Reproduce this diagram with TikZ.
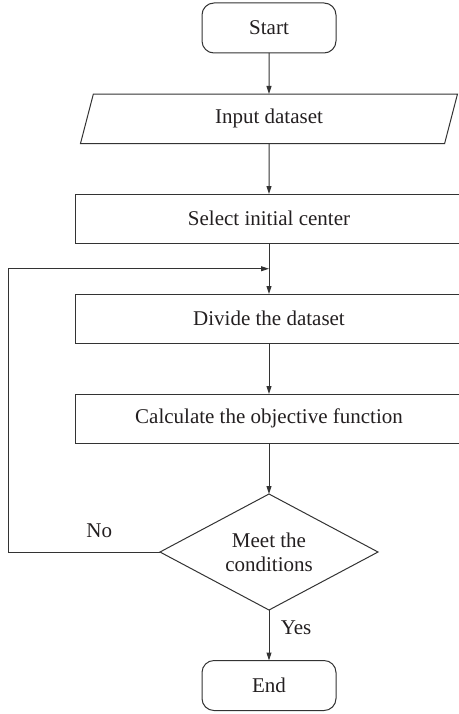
\documentclass[tikz,border=0pt]{standalone}
\usepackage{fontspec}
\setmainfont{Liberation Serif}
\usepackage{xcolor}
\usepackage{tikz}
\usetikzlibrary{arrows.meta,positioning,shapes.geometric}
\definecolor{line}{HTML}{333333}
\definecolor{ink}{HTML}{231F20}

\begin{document}
\begin{tikzpicture}[
  x=1pt,y=1pt,
  node distance=50.5pt,
  every node/.style={font=\fontsize{21}{24}\selectfont,text=ink},
  term/.style={draw=line,line width=1pt,outer sep=0pt,rounded corners=12pt,minimum width=134pt,minimum height=50pt},
  io/.style={draw=line,line width=1pt,outer sep=0pt,trapezium,trapezium left angle=63.4,trapezium right angle=116.6,trapezium stretches body,minimum width=377pt,minimum height=49.5pt},
  box/.style={draw=line,line width=1pt,outer sep=0pt,minimum width=388pt,minimum height=49.5pt},
  cond/.style={draw=line,line width=1pt,outer sep=0pt,diamond,aspect=1.88,minimum width=218pt,minimum height=116pt,align=center,inner sep=0pt},
  arr/.style={-{Triangle[length=8pt,width=5pt]},line width=1pt,draw=line}
]
\useasboundingbox (0,0) rectangle (458,-714);
\node[term] (start) at (269,-28) {Start};
\node[io,below=41pt of start] (input) {Input dataset};
\node[box,below=of input] (select) {Select initial center};
\node[box,below=of select] (divide) {Divide the dataset};
\node[box,below=of divide] (calc) {Calculate the objective function};
\node[cond,below=of calc] (meet) {Meet the\\conditions};
\node[term,below=of meet] (end) {End};
\path (select.south) -- coordinate (join) (divide.north);
\draw[arr] (start) -- (input);
\draw[arr] (input) -- (select);
\draw[arr] (select) -- (divide);
\draw[arr] (divide) -- (calc);
\draw[arr] (calc) -- (meet);
\draw[arr] (meet) -- node[pos=0.35,right=8pt]{Yes} (end);
\draw[arr] (meet.west) -- node[pos=0.4,above=10pt]{No} ++(-152,0) |- (join);
\end{tikzpicture}
\end{document}
